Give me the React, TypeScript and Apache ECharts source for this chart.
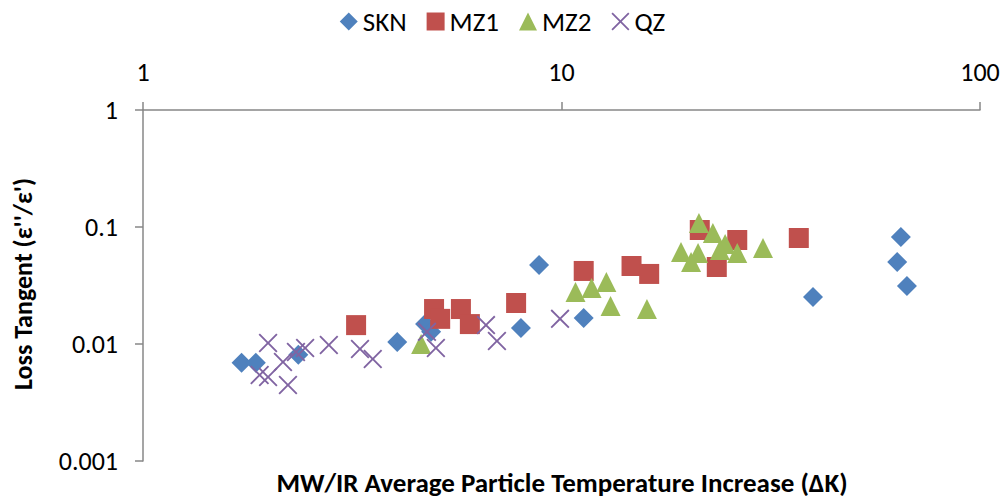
import React, { useEffect, useRef } from "react";
import * as echarts from "echarts";

const sknX = [1.72, 1.86, 2.35, 4.05, 4.72, 4.88, 8.0, 8.84, 11.3, 39.9, 64.7, 63.4, 66.9];
const sknY = [0.0069, 0.0069, 0.0081, 0.0104, 0.0148, 0.0127, 0.0137, 0.0473, 0.0167, 0.0252, 0.0822, 0.0502, 0.0313];

const mz1X = [3.23, 4.96, 5.13, 5.75, 6.04, 7.79, 11.3, 14.7, 16.2, 21.4, 26.3, 23.5, 36.9];
const mz1Y = [0.0145, 0.0199, 0.0164, 0.0199, 0.0148, 0.0224, 0.0421, 0.0464, 0.0397, 0.0943, 0.0774, 0.0455, 0.0805];

const mz2X = [4.62, 10.8, 11.8, 12.8, 13.1, 16.0, 19.3, 20.4, 21.3, 23.0, 21.2, 24.6, 26.3, 30.3, 23.9];
const mz2Y = [0.01, 0.0278, 0.0301, 0.0339, 0.0211, 0.0199, 0.0611, 0.0502, 0.108, 0.0889, 0.06, 0.0716, 0.06, 0.0662, 0.0636];

const qzX = [1.9, 1.99, 1.99, 2.16, 2.22, 2.32, 2.44, 2.78, 3.3, 3.54, 4.77, 5.01, 6.6, 7.01, 9.92];
const qzY = [0.00543, 0.0102, 0.00522, 0.00702, 0.00446, 0.00855, 0.00924, 0.0098, 0.00906, 0.00745, 0.0127, 0.00924, 0.0145, 0.0106, 0.0164];

const seriesNames = ["SKN", "MZ1", "MZ2", "QZ"];
const xTickLabels = ["1", "10", "100"];
const yTickLabels = ["0.001", "0.01", "0.1", "1"];
const xTitle = "MW/IR Average Particle Temperature Increase (ΔK)";
const yTitle = "Loss Tangent (ε''/ε')";

const FONT = "Carlito, 'Liberation Sans Narrow', 'Liberation Sans', sans-serif";
const X_SYMBOL =
  "path://M0,7L7,0L50,43L93,0L100,7L57,50L100,93L93,100L50,57L7,100L0,93L43,50Z";

function pairs(xs: number[], ys: number[]) {
  return xs.map((x, i) => [x, ys[i]]);
}

function fmt(v: number, labels: string[]) {
  const s = String(Number(v.toPrecision(1)));
  const found = labels.find((l) => l === s);
  return found !== undefined ? found : s;
}

export default function App() {
  const ref = useRef<HTMLDivElement>(null);
  useEffect(() => {
    if (!ref.current) return;
    const chart = echarts.init(ref.current, null, { renderer: "svg" });
    const axisLine = { show: true, lineStyle: { color: "#878787", width: 1.5 } };
    chart.setOption({
      animation: false,
      backgroundColor: "#ffffff",
      textStyle: { fontFamily: FONT },
      legend: {
        top: 3,
        left: "center",
        itemWidth: 18,
        itemHeight: 18,
        itemGap: 20,
        textStyle: { fontFamily: FONT, fontSize: 27, color: "#000" },
        data: seriesNames,
      },
      grid: { left: 143, right: 25, top: 110, bottom: 40 },
      xAxis: {
        type: "log",
        logBase: 10,
        min: 1,
        max: 100,
        position: "top",
        axisLine,
        axisTick: { show: true, length: 8, lineStyle: { color: "#878787", width: 1.5 } },
        minorTick: { show: false },
        splitLine: { show: false },
        axisLabel: {
          margin: 25,
          fontFamily: FONT,
          fontSize: 26,
          color: "#000",
          formatter: (v: number) => fmt(v, xTickLabels),
        },
      },
      yAxis: {
        type: "log",
        logBase: 10,
        min: 0.001,
        max: 1,
        axisLine,
        axisTick: { show: true, length: 8, lineStyle: { color: "#878787", width: 1.5 } },
        splitLine: { show: false },
        axisLabel: {
          margin: 25,
          fontFamily: FONT,
          fontSize: 26,
          color: "#000",
          formatter: (v: number) => fmt(v, yTickLabels),
        },
      },
      graphic: [
        {
          type: "text",
          x: 562,
          y: 482,
          style: {
            text: xTitle,
            fontFamily: FONT,
            fontSize: 27,
            fontWeight: "bold",
            fill: "#000",
            align: "center",
            verticalAlign: "middle",
          },
        },
        {
          type: "text",
          x: 23,
          y: 284,
          rotation: Math.PI / 2,
          style: {
            text: yTitle,
            fontFamily: FONT,
            fontSize: 26,
            fontWeight: "bold",
            fill: "#000",
            align: "center",
            verticalAlign: "middle",
          },
        },
      ],
      series: [
        {
          name: seriesNames[0],
          type: "scatter",
          symbol: "diamond",
          symbolSize: 20,
          itemStyle: { color: "#4F81BD", opacity: 1 },
          data: pairs(sknX, sknY),
        },
        {
          name: seriesNames[1],
          type: "scatter",
          symbol: "rect",
          symbolSize: 20,
          itemStyle: { color: "#C0504D", opacity: 1 },
          data: pairs(mz1X, mz1Y),
        },
        {
          name: seriesNames[2],
          type: "scatter",
          symbol: "triangle",
          symbolSize: 20,
          itemStyle: { color: "#9BBB59", opacity: 1 },
          data: pairs(mz2X, mz2Y),
        },
        {
          name: seriesNames[3],
          type: "scatter",
          symbol: X_SYMBOL,
          symbolSize: 19,
          itemStyle: { color: "#8064A2", opacity: 1 },
          data: pairs(qzX, qzY),
        },
      ],
    });
    return () => chart.dispose();
  }, []);
  return (
    <div
      ref={ref}
      style={{ position: "fixed", left: 0, top: 0, width: 1005, height: 501 }}
    />
  );
}
